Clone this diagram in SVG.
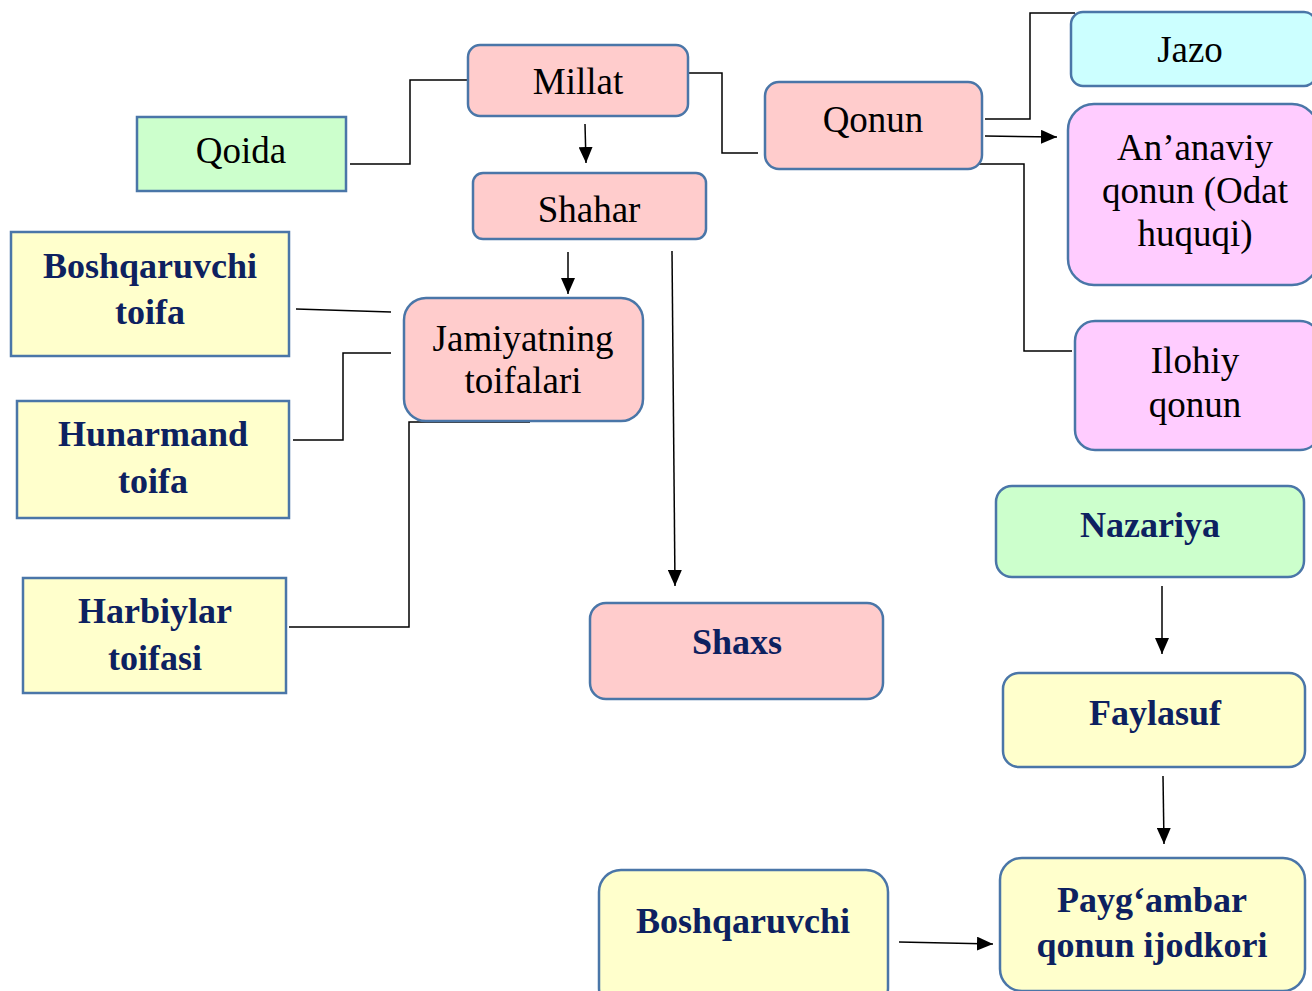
<svg xmlns="http://www.w3.org/2000/svg" width="1312" height="991" viewBox="0 0 1312 991">
<style>
.box{stroke:#4a76a8;stroke-width:2.5}
.pink{fill:#ffcccc}.green{fill:#ccffcc}.yellow{fill:#ffffcc}.cyan{fill:#ccffff}.mag{fill:#ffccff}
.t{font-family:"Liberation Serif","Times New Roman",serif;font-size:37px;fill:#000;text-anchor:middle}
.b{font-family:"Liberation Serif","Times New Roman",serif;font-size:36px;font-weight:bold;fill:#0d2160;text-anchor:middle}
.c{fill:none;stroke:#000;stroke-width:1.5}
</style>
<defs>
<marker id="ahL" viewBox="0 0 16 14" refX="16" refY="7" markerWidth="16" markerHeight="14" markerUnits="userSpaceOnUse" orient="auto">
<path d="M0,0 L16,7 L0,14 z" fill="#000"/>
</marker>
</defs>
<rect width="1312" height="991" fill="#fff"/>
<g id="connectors">
<polyline class="c" points="350,164 410,164 410,80 468,80"/>
<line class="c" x1="585" y1="124" x2="586" y2="163" marker-end="url(#ahL)"/>
<polyline class="c" points="688,73 722,73 722,153 758,153"/>
<polyline class="c" points="985,119 1030,119 1030,13 1075,13"/>
<line class="c" x1="985" y1="136" x2="1057" y2="137" marker-end="url(#ahL)"/>
<polyline class="c" points="978,164 1024,164 1024,351 1072,351"/>
<line class="c" x1="568" y1="252" x2="568" y2="294" marker-end="url(#ahL)"/>
<line class="c" x1="672" y1="251" x2="675" y2="586" marker-end="url(#ahL)"/>
<line class="c" x1="296" y1="309" x2="391" y2="312"/>
<polyline class="c" points="293,440 343,440 343,353 391,353"/>
<polyline class="c" points="289,627 409,627 409,422 530,422"/>
<line class="c" x1="1162" y1="586" x2="1162" y2="654" marker-end="url(#ahL)"/>
<line class="c" x1="1163" y1="776" x2="1164" y2="844" marker-end="url(#ahL)"/>
<line class="c" x1="899" y1="942" x2="993" y2="944" marker-end="url(#ahL)"/>
</g>
<g id="qoida"><rect class="box green" x="137" y="117" width="209" height="74"/><text class="t" x="241" y="163">Qoida</text></g>
<g id="millat"><rect class="box pink" x="468" y="45" width="220" height="71" rx="12"/><text class="t" x="578" y="94">Millat</text></g>
<g id="shahar"><rect class="box pink" x="473" y="173" width="233" height="66" rx="10"/><text class="t" x="589" y="222">Shahar</text></g>
<g id="qonun"><rect class="box pink" x="765" y="82" width="217" height="87" rx="14"/><text class="t" x="873" y="132">Qonun</text></g>
<g id="jazo"><rect class="box cyan" x="1071" y="12" width="245" height="74" rx="12"/><text class="t" x="1190" y="62">Jazo</text></g>
<g id="ananaviy"><rect class="box mag" x="1068" y="104" width="250" height="181" rx="26"/><text class="t" x="1195" y="160">An’anaviy</text><text class="t" x="1195" y="203">qonun (Odat</text><text class="t" x="1195" y="246">huquqi)</text></g>
<g id="ilohiy"><rect class="box mag" x="1075" y="321" width="245" height="129" rx="20"/><text class="t" x="1195" y="373">Ilohiy</text><text class="t" x="1195" y="417">qonun</text></g>
<g id="boshqaruvchi-toifa"><rect class="box yellow" x="11" y="232" width="278" height="124"/><text class="b" x="150" y="278">Boshqaruvchi</text><text class="b" x="150" y="324">toifa</text></g>
<g id="hunarmand"><rect class="box yellow" x="17" y="401" width="272" height="117"/><text class="b" x="153" y="446">Hunarmand</text><text class="b" x="153" y="493">toifa</text></g>
<g id="harbiylar"><rect class="box yellow" x="23" y="578" width="263" height="115"/><text class="b" x="155" y="623">Harbiylar</text><text class="b" x="155" y="670">toifasi</text></g>
<g id="jamiyatning"><rect class="box pink" x="404" y="298" width="239" height="123" rx="22"/><text class="t" x="523" y="351">Jamiyatning</text><text class="t" x="523" y="393">toifalari</text></g>
<g id="shaxs"><rect class="box pink" x="590" y="603" width="293" height="96" rx="16"/><text class="b" x="737" y="654">Shaxs</text></g>
<g id="nazariya"><rect class="box green" x="996" y="486" width="308" height="91" rx="16"/><text class="b" x="1150" y="537">Nazariya</text></g>
<g id="faylasuf"><rect class="box yellow" x="1003" y="673" width="302" height="94" rx="16"/><text class="b" x="1155" y="725">Faylasuf</text></g>
<g id="paygambar"><rect class="box yellow" x="1000" y="858" width="305" height="133" rx="22"/><text class="b" x="1152" y="912">Payg‘ambar</text><text class="b" x="1152" y="957">qonun ijodkori</text></g>
<g id="boshqaruvchi"><rect class="box yellow" x="599" y="870" width="289" height="140" rx="22"/><text class="b" x="743" y="933">Boshqaruvchi</text></g>
</svg>
